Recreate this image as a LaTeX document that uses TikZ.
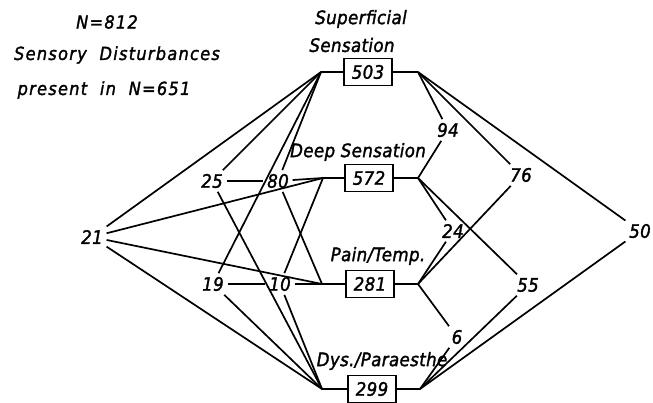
\documentclass[tikz,border=0pt]{standalone}
\usepackage{fontspec}
\setmainfont{DejaVu Sans Condensed}[LetterSpace=2, FakeBold=1.6]
\newcommand{\wide}{\addfontfeature{LetterSpace=7}}
\begin{document}
\begin{tikzpicture}[x=1pt, y=-1pt, line width=1.7pt,
  lab/.style={font=\itshape\fontsize{18.5}{22}\selectfont, inner sep=2pt},
  ttl/.style={font=\itshape\fontsize{18}{22}\selectfont\wide, inner sep=2pt},
  cnt/.style={lab, inner sep=3pt},
  box/.style={draw, lab, minimum width=48pt, minimum height=27pt, inner sep=0pt},
]
\useasboundingbox (0,0) rectangle (653,403);

% heading
\node[ttl] (hN)   at (107,22) {N=812};
\node[ttl] (hSD)  at (117,55) {Sensory\ \ Disturbances};
\node[ttl] (hPr)  at (104,90) {present\ \ in\ \ N=651};

% category boxes with their captions
\node[box] (sup) at (368,72)  {503};
\node[box] (dep) at (369,178) {572};
\node[box] (pai) at (370,284) {281};
\node[box] (dys) at (372,389) {299};

\node[lab] (cSup1) at (361,19)  {Superficial};
\node[lab] (cSup2) at (352,45)  {Sensation};
\node[lab] (cDep)  at (358,152) {Deep Sensation};
\node[lab] (cPai)  at (378,256) {Pain/Temp.};
\node[lab] (cDys)  at (382,361) {Dys./Paraesthe};

% junction points on either side of each box
\coordinate (supL) at (321,72);  \coordinate (supR) at (418,72);
\coordinate (depL) at (323,178); \coordinate (depR) at (418,178);
\coordinate (paiL) at (322,284); \coordinate (paiR) at (418,284);
\coordinate (dysL) at (322,389); \coordinate (dysR) at (420,389);

\draw (supL) -- (sup) -- (supR);
\draw (depL) -- (dep) -- (depR);
\draw (paiL) -- (pai) -- (paiR);
\draw (dysL) -- (dys) -- (dysR);

% combination counts (left: three or four qualities, right: two)
\node[cnt] (n21) at (92,237)  {21};
\node[cnt] (n25) at (212,181) {25};
\node[cnt] (n80) at (278,181) {80};
\node[cnt] (n19) at (213,284) {19};
\node[cnt] (n10) at (280,284) {10};

\node[cnt] (n94) at (448,130) {94};
\node[cnt] (n76) at (521,175) {76};
\node[cnt] (n50) at (640,231) {50};
\node[cnt] (n24) at (453,231) {24};
\node[cnt] (n55) at (528,285) {55};
\node[cnt] (n6)  at (457,337) {6};

% left side links
\draw (n21) -- (supL);  \draw (n21) -- (depL);
\draw (n21) -- (paiL);  \draw (n21) -- (dysL);
\draw (n25) -- (supL);  \draw (n25) -- (n80);  \draw (n80) -- (depL);
\draw (n25) -- (dysL);
\draw (n80) -- (supL);  \draw (n80) -- (paiL);
\draw (n19) -- (supL);  \draw (n19) -- (n10);  \draw (n10) -- (paiL);
\draw (n19) -- (dysL);
\draw (n10) -- (depL);  \draw (n10) -- (dysL);

% right side links
\draw (supR) -- (n94) -- (depR);
\draw (supR) -- (n76) -- (paiR);
\draw (supR) -- (n50) -- (dysR);
\draw (depR) -- (n24) -- (paiR);
\draw (depR) -- (n55) -- (dysR);
\draw (paiR) -- (n6)  -- (dysR);
\end{tikzpicture}
\end{document}
